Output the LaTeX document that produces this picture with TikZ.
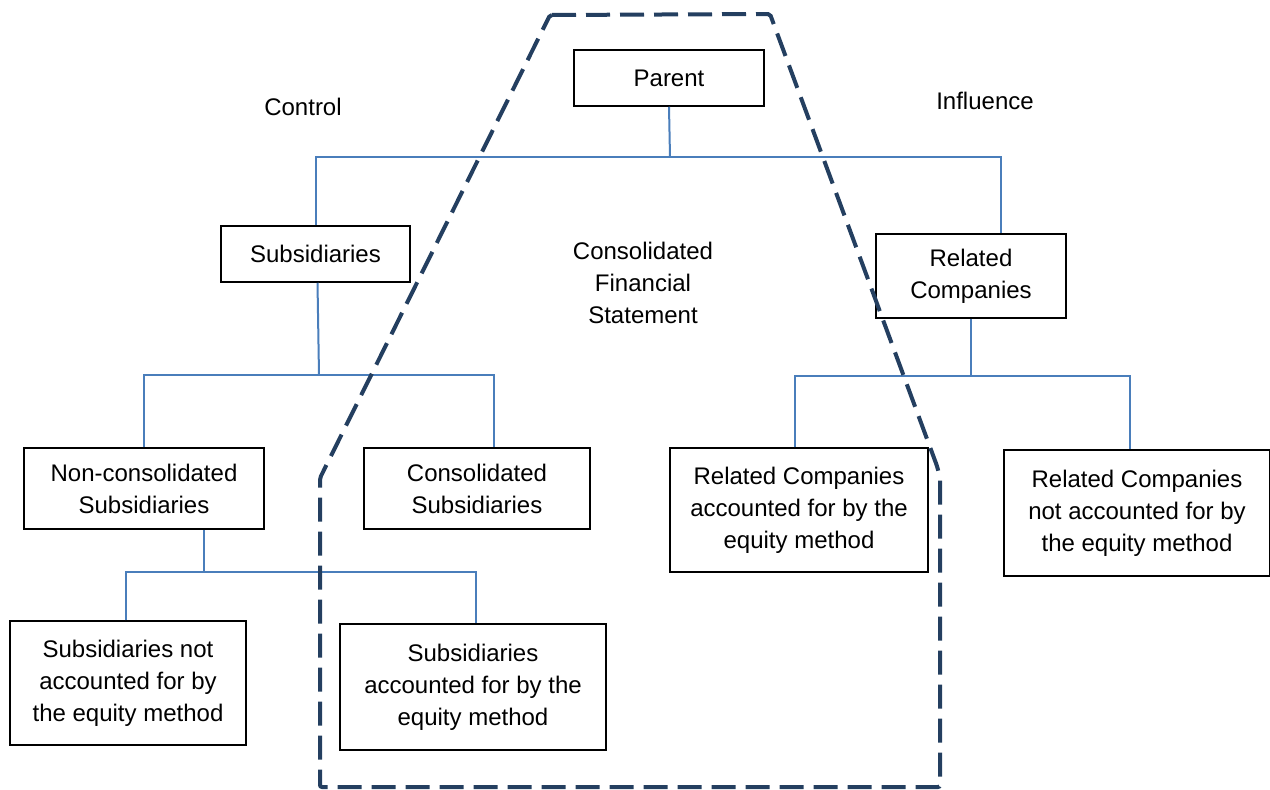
\documentclass[tikz,border=0pt]{standalone}
\usepackage{fontspec}
\setmainfont{Liberation Sans}
\definecolor{connblue}{HTML}{4A7EBB}
\definecolor{navy}{HTML}{243F60}
\tikzset{
  box/.style={draw=black, line width=0.75pt, inner sep=0pt, align=center, font=\fontsize{12}{16}\selectfont, fill=white},
  conn/.style={draw=connblue, line width=1pt},
  outline/.style={draw=navy, line width=2pt, dash pattern=on 12pt off 5pt, rounded corners=1pt},
  lbl/.style={inner sep=0pt, align=center, font=\fontsize{12}{16}\selectfont}
}
\begin{document}
\begin{tikzpicture}[x=0.5pt,y=-0.5pt]
\useasboundingbox (0,0) rectangle (1270,789);
% boxes
\node[box, minimum width=95pt, minimum height=28pt] (parent) at (669,78) {Parent};
\node[box, minimum width=94.5pt, minimum height=28pt] (subs) at (315.5,254) {Subsidiaries};
\node[box, minimum width=95pt, minimum height=42pt] (related) at (971,276) {\raisebox{-1.5pt}{\parbox{90pt}{\centering Related\\Companies}}};
\node[box, minimum width=120pt, minimum height=40.5pt] (noncons) at (144,488.5) {\raisebox{-1.5pt}{\parbox{115pt}{\centering Non-consolidated\\Subsidiaries}}};
\node[box, minimum width=113pt, minimum height=40.5pt] (cons) at (477,488.5) {\raisebox{-1.5pt}{\parbox{110pt}{\centering Consolidated\\Subsidiaries}}};
\node[box, minimum width=129pt, minimum height=62pt] (relacc) at (799,510) {Related Companies\\accounted for by the\\equity method};
\node[box, minimum width=133pt, minimum height=63pt] (relnot) at (1137,513) {Related Companies\\not accounted for by\\the equity method};
\node[box, minimum width=118pt, minimum height=62pt] (subnot) at (128,683) {Subsidiaries not\\accounted for by\\the equity method};
\node[box, minimum width=133pt, minimum height=63pt] (subacc) at (473,687) {Subsidiaries\\accounted for by the\\equity method};
% labels
\node[lbl] (control) at (303,107) {Control};
\node[lbl] (influence) at (985,101) {Influence};
\node[lbl] (cfs) at (643,283) {Consolidated\\Financial\\Statement};
% connectors
\coordinate (j1) at (670,157);
\draw[conn] (parent.south) -- (j1);
\draw[conn] (subs.north) |- (j1) -| ([xshift=15pt]related.north);
\coordinate (j2) at (319,375);
\draw[conn] ([xshift=1pt]subs.south) -- (j2);
\draw[conn] (noncons.north) |- (j2) -| ([xshift=8.5pt]cons.north);
\coordinate (j3) at (971,376);
\draw[conn] (related.south) -- (j3);
\draw[conn] ([xshift=-2pt]relacc.north) |- (j3) -| ([xshift=-3.5pt]relnot.north);
\coordinate (j4) at (204,572);
\draw[conn] ([xshift=30pt]noncons.south) -- (j4);
\draw[conn] ([xshift=-1pt]subnot.north) |- (j4) -| ([xshift=1.5pt]subacc.north);
% dashed outline
\draw[outline] (550,15) -- (770,14) -- (937,466) -- (940,478) -- (940,787) -- (320,787) -- (320,478) -- cycle;
\end{tikzpicture}
\end{document}
